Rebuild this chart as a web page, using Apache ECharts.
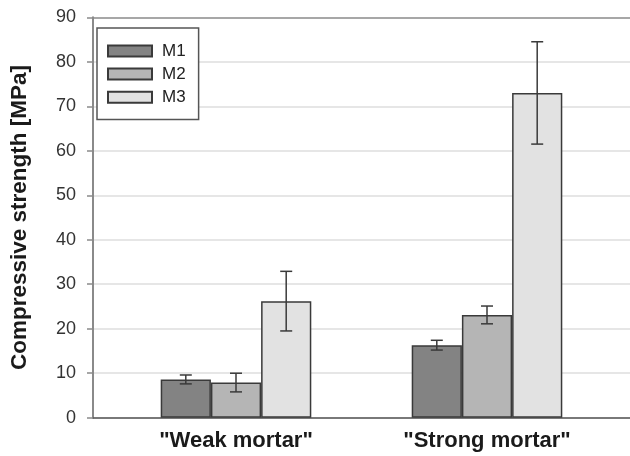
<!DOCTYPE html>
<html>
<head>
<meta charset="utf-8">
<script src="https://cdn.jsdelivr.net/npm/echarts@6/dist/echarts.min.js"></script>
<style>html,body{margin:0;padding:0;background:#fff}#c{width:630px;height:456px}</style>
</head>
<body>
<div id="c"></div>
<script>
var categories = ['"Weak mortar"', '"Strong mortar"'];
var seriesNames = ['M1', 'M2', 'M3'];
var m1 = [8.6, 16.3];
var m2 = [7.9, 23.1];
var m3 = [26.2, 73.0];
var m1Err = [1.0, 1.1];
var m2Err = [2.1, 2.0];
var m3Err = [6.7, 11.5];
var yMin = 0, yMax = 90, yStep = 10;

var values = [m1, m2, m3];
var errs = [m1Err, m2Err, m3Err];
var fills = ['#838383', '#b5b5b5', '#e2e2e2'];
var FONT = 'Liberation Sans, Arial, sans-serif';

var chart = echarts.init(document.getElementById('c'), null, {renderer: 'canvas'});

var series = [];
seriesNames.forEach(function (name, i) {
  series.push({
    name: name, type: 'bar', xAxisIndex: 1, yAxisIndex: 1,
    data: values[i], barGap: '0%', barCategoryGap: '40%',
    itemStyle: {color: fills[i], borderColor: '#3a3a3a', borderWidth: 1.5},
    z: 3
  });
});
seriesNames.forEach(function (name, i) {
  series.push({
    name: name + ' error', type: 'custom', xAxisIndex: 1, yAxisIndex: 1, z: 5,
    data: values[i].map(function (v, k) { return [k, v, errs[i][k]]; }),
    encode: {x: 0, y: 1},
    renderItem: function (params, api) {
      var cat = api.value(0), v = api.value(1), e = api.value(2);
      var band = api.size([1, 0])[0];
      var bw = band * 0.6 / 3;
      var c = api.coord([cat, v]);
      var x = c[0] + (i - 1) * bw;
      var yt = api.coord([cat, v + e])[1];
      var yb = api.coord([cat, v - e])[1];
      var half = 6;
      var st = {stroke: '#3a3a3a', lineWidth: 1.5};
      return {type: 'group', children: [
        {type: 'line', shape: {x1: x, y1: yt, x2: x, y2: yb}, style: st},
        {type: 'line', shape: {x1: x - half, y1: yt, x2: x + half, y2: yt}, style: st},
        {type: 'line', shape: {x1: x - half, y1: yb, x2: x + half, y2: yb}, style: st}
      ]};
    }
  });
});

var splitColors = [];
for (var t = yMin; t <= yMax; t += yStep) splitColors.push(t === yMax ? '#8a8a8a' : '#dedede');

chart.setOption({
  animation: false,
  backgroundColor: '#fff',
  textStyle: {fontFamily: FONT},
  grid: [
    {left: 86, right: 0, top: 17.3, bottom: 38.3},
    {left: 110.5, right: 17.5, top: 17.3, bottom: 38.3}
  ],
  legend: {
    data: seriesNames, orient: 'vertical', left: 97, top: 28,
    icon: 'rect', itemWidth: 44, itemHeight: 11, itemGap: 6.1,
    padding: [14.5, 13, 13.8, 10],
    backgroundColor: '#fff', borderColor: '#555', borderWidth: 1.5,
    textStyle: {fontFamily: FONT, fontSize: 17, color: '#222', padding: [0, 0, 0, 5]}
  },
  xAxis: [
    {type: 'value', gridIndex: 0, min: 0, max: 1, show: true,
     axisLine: {show: true, onZero: false, lineStyle: {color: '#555', width: 1.5}},
     axisTick: {show: false}, axisLabel: {show: false}, splitLine: {show: false}},
    {type: 'category', gridIndex: 1, data: categories,
     axisLine: {show: false}, axisTick: {show: false},
     axisLabel: {fontFamily: FONT, fontSize: 22, fontWeight: 'bold', color: '#1a1a1a', margin: 12}}
  ],
  yAxis: [
    {type: 'value', gridIndex: 0, min: yMin, max: yMax, interval: yStep,
     name: 'Compressive strength [MPa]', nameLocation: 'middle', nameGap: 62, nameRotate: 90,
     nameTextStyle: {fontFamily: FONT, fontSize: 22.5, fontWeight: 'bold', color: '#1a1a1a'},
     axisLine: {show: true, lineStyle: {color: '#8a8a8a', width: 2}},
     axisTick: {show: true, length: 6, lineStyle: {color: '#8a8a8a', width: 1.5}},
     axisLabel: {fontFamily: FONT, fontSize: 18, color: '#333', margin: 17},
     splitLine: {show: true, lineStyle: {color: splitColors, width: 1.5}}},
    {type: 'value', gridIndex: 1, min: yMin, max: yMax, interval: yStep, show: false,
     splitLine: {show: false}}
  ],
  series: series
});
</script>
</body>
</html>
